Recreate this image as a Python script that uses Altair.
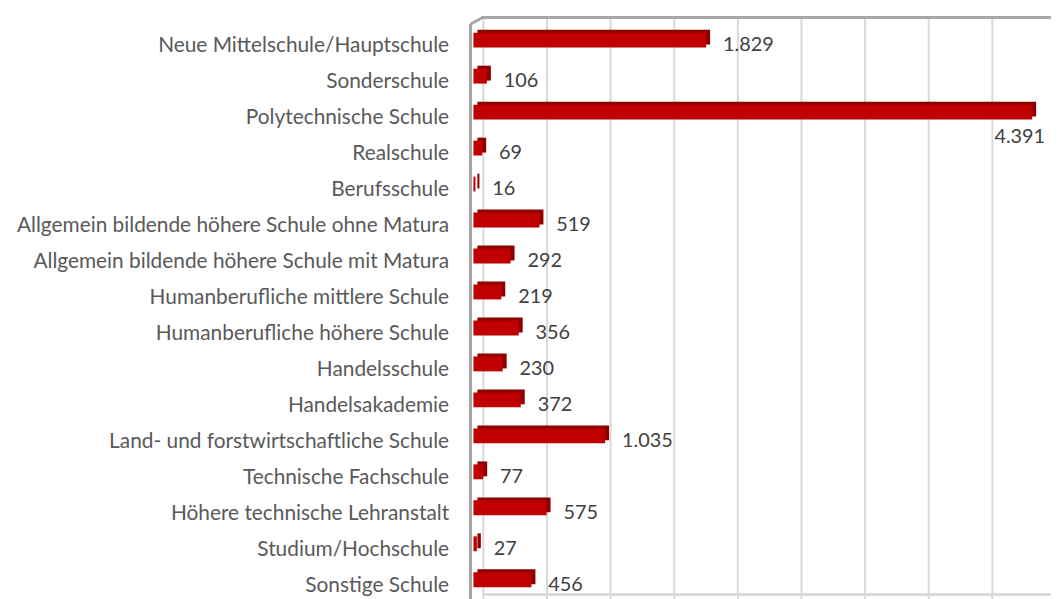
import altair as alt
import pandas as pd

categories = [
    "Neue Mittelschule/Hauptschule",
    "Sonderschule",
    "Polytechnische Schule",
    "Realschule",
    "Berufsschule",
    "Allgemein bildende höhere Schule ohne Matura",
    "Allgemein bildende höhere Schule mit Matura",
    "Humanberufliche mittlere Schule",
    "Humanberufliche höhere Schule",
    "Handelsschule",
    "Handelsakademie",
    "Land- und forstwirtschaftliche Schule",
    "Technische Fachschule",
    "Höhere technische Lehranstalt",
    "Studium/Hochschule",
    "Sonstige Schule",
]
values = [1829, 106, 4391, 69, 16, 519, 292, 219, 356, 230, 372, 1035, 77, 575, 27, 456]
grid_ticks = [0, 500, 1000, 1500, 2000, 2500, 3000, 3500, 4000, 4500]

df = pd.DataFrame({"cat": categories, "value": values})
df["label"] = [f"{v:,}".replace(",", ".") for v in values]
df["big"] = df["value"] > 4000
grid_df = pd.DataFrame({"tick": grid_ticks})

W, H = 577, 580
FONT = "Lato"

x_scale = alt.Scale(domain=[0, 4500], range=[0, W], nice=False, zero=True)
y_scale = alt.Scale(domain=categories, range=[0, 580], paddingInner=0, paddingOuter=0)

x_enc = alt.X("value:Q", scale=x_scale, axis=None)
y_enc = alt.Y(
    "cat:N",
    scale=y_scale,
    sort=categories,
    axis=alt.Axis(
        title=None,
        domain=False,
        ticks=False,
        grid=False,
        labelPadding=25,
        labelOffset=6,
        labelFontSize=21,
        labelColor="#595959",
        labelFont=FONT,
        labelLimit=0,
    ),
)

grid = alt.Chart(grid_df).mark_rule(color="#d9d9d9", strokeWidth=2, xOffset=10).encode(
    x=alt.X("tick:Q", scale=x_scale, axis=None),
    y=alt.value(-5),
    y2=alt.value(600),
)

frame_top = alt.Chart(grid_df).mark_rule(color="#a6a6a6", strokeWidth=2).encode(
    x=alt.value(10), x2=alt.value(620), y=alt.value(-5)
)
frame_left = alt.Chart(grid_df).mark_rule(color="#a6a6a6", strokeWidth=2).encode(
    x=alt.value(-3), y=alt.value(2), y2=alt.value(600)
)
frame_diag = alt.Chart(grid_df).mark_rule(color="#a6a6a6", strokeWidth=2).encode(
    x=alt.value(-3), x2=alt.value(10), y=alt.value(2), y2=alt.value(-5)
)
floor = alt.Chart(grid_df).mark_rule(color="#d9d9d9", strokeWidth=2).encode(
    x=alt.value(10), x2=alt.value(620), y=alt.value(577)
)

bar_back = alt.Chart(df).mark_bar(size=15, color="#8c0000", xOffset=4, yOffset=-3).encode(
    x=x_enc, y=y_enc
)

bar_front = alt.Chart(df).mark_bar(size=15, color="#c00000").encode(x=x_enc, y=y_enc)

labels = alt.Chart(df).transform_filter("!datum.big").mark_text(
    align="left", baseline="middle", dx=17, dy=5, fontSize=20, font=FONT, color="#404040"
).encode(x=x_enc, y=y_enc, text="label:N")

labels_big = alt.Chart(df).transform_filter("datum.big").mark_text(
    align="right", baseline="middle", dx=13, dy=25, fontSize=20, font=FONT, color="#404040"
).encode(x=x_enc, y=y_enc, text="label:N")

chart = (
    alt.layer(grid, floor, frame_top, frame_left, frame_diag, bar_back, bar_front, labels, labels_big)
    .properties(
        width=W,
        height=H,
        autosize="none",
        padding={"left": 469, "top": 12, "right": 5, "bottom": 0},
        background="white",
    )
    .configure_view(stroke=None)
)

chart.save("out.html", embed_options={"renderer": "svg", "actions": False})
